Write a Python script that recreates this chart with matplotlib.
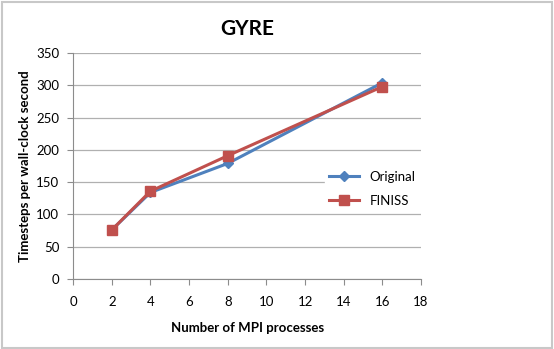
import matplotlib
matplotlib.use("Agg")
import matplotlib.pyplot as plt
from matplotlib.patches import Rectangle

processes = [2, 4, 8, 16]
original = [76, 134, 179, 304]
finiss = [76, 136, 191, 298]

x_ticks = list(range(0, 19, 2))
y_ticks = list(range(0, 351, 50))

plt.rcParams["font.family"] = ["Lato", "DejaVu Sans"]

fig = plt.figure(figsize=(5.54, 3.49), dpi=100)
fig.patches.append(Rectangle((0.003, 0.004), 0.994, 0.99, transform=fig.transFigure,
                             fill=False, edgecolor="#c8c8c8", lw=1.5))
ax = fig.add_axes([0.132, 0.2006, 0.628, 0.6474])

ax.plot(processes, original, color="#4F81BD", lw=2.2, marker="D", ms=5,
        label="Original", zorder=3)
ax.plot(processes, finiss, color="#C0504D", lw=2.2, marker="s", ms=7,
        label="FINISS", zorder=4)

ax.set_xlim(0, 18)
ax.set_ylim(0, 350)
ax.set_xticks(x_ticks)
ax.set_yticks(y_ticks)
ax.grid(axis="y", color="#b0b0b0", lw=0.9)
ax.set_axisbelow(True)
for side in ["top", "right"]:
    ax.spines[side].set_visible(False)
for side in ["left", "bottom"]:
    ax.spines[side].set_color("#8c8c8c")
ax.tick_params(colors="#8c8c8c", labelcolor="black", labelsize=9.5, length=4)
ax.tick_params(axis="x", pad=8)
ax.tick_params(axis="y", pad=6)

ax.set_title("GYRE", fontsize=15, fontweight="bold", pad=13)
ax.set_xlabel("Number of MPI processes", fontsize=9.5, fontweight="bold", labelpad=10)
ax.set_ylabel("Timesteps per wall-clock second", fontsize=9.5, fontweight="bold", labelpad=4)

leg = ax.legend(loc="center", bbox_to_anchor=(0.86, 0.40), frameon=True, fancybox=False,
                edgecolor="white", facecolor="white", framealpha=1, fontsize=9.5,
                handlelength=2.3, borderpad=0.3, labelspacing=0.9)

fig.savefig("out.png", dpi=100)
